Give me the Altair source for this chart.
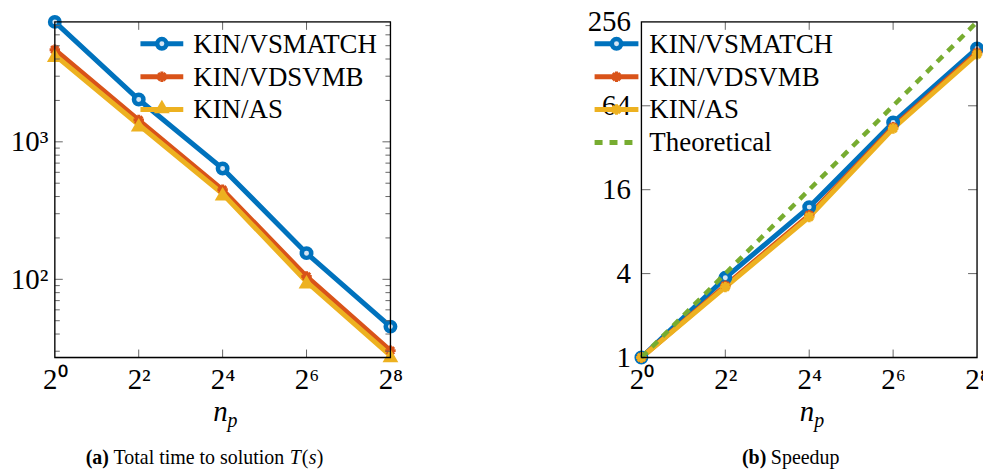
import altair as alt
import pandas as pd

# ---------------- data ----------------
np_vals = [1, 4, 16, 64, 256]
series_names = ["KIN/VSMATCH", "KIN/VDSVMB", "KIN/AS"]
t_vsmatch = [7450, 2030, 640, 155, 45.3]
t_vdsvmb = [4680, 1440, 448, 105, 30.3]
t_as = [4270, 1330, 419, 96, 27.9]

s_vsmatch = [1, 3.73, 12.0, 48.6, 165]
s_vdsvmb = [1, 3.28, 10.5, 45.0, 154]
s_as = [1, 3.2, 10.2, 44.0, 150]
s_theory = [1, 4, 16, 64, 256]

x_tick_vals = [1, 4, 16, 64, 256]
x_tick_inner = [4, 16, 64]
t_major = [100, 1000]
t_minor = [30, 40, 50, 60, 70, 80, 90, 200, 300, 400, 500, 600, 700, 800, 900,
           2000, 3000, 4000, 5000, 6000, 7000]
s_major = [1, 4, 16, 64, 256]
s_inner = [4, 16, 64]

BLUE, ORANGE, YELLOW, GREEN = "#0072BD", "#D95319", "#EDB120", "#77AC30"
FONT = "'Liberation Serif', 'Times New Roman', serif"
W, H = 337, 337
TICK = "#666666"
LAB = 29
ASTER = "M-1,0L1,0M0,-1L0,1M-0.7,-0.7L0.7,0.7M-0.7,0.7L0.7,-0.7"

one = pd.DataFrame({"d": [0]})

xlab = ("datum.value == 1 ? '2⁰' : datum.value == 4 ? '2²' : datum.value == 16 ? '2⁴'"
        " : datum.value == 64 ? '2⁶' : '2⁸'")

X_AXIS = alt.Axis(values=x_tick_vals, labelExpr=xlab, title=None, grid=False,
                  domain=False, ticks=False, labelFont=FONT, labelFontSize=LAB,
                  labelColor="black", labelPadding=8, labelFlush=False, labelOverlap=False)


def xenc():
    return alt.X("np:Q", scale=alt.Scale(type="log", base=2, domain=[1, 256], nice=False),
                 axis=X_AXIS)


def series_df(vals):
    return pd.DataFrame({"np": np_vals, "v": vals})


def line_layer(vals, color, yenc, dash=None, width=5):
    kw = dict(strokeWidth=width, color=color)
    if dash:
        kw["strokeDash"] = dash
    return alt.Chart(series_df(vals)).mark_line(**kw).encode(x=xenc(), y=yenc)


def circle_mark(data, color):
    return alt.Chart(data).mark_point(shape="circle", size=90, filled=False,
                                      fill="#d5e5f3", fillOpacity=1,
                                      stroke=color, strokeWidth=4.5, opacity=1)


def tri_mark(data, color):
    return alt.Chart(data).mark_point(shape="triangle-up", size=250, filled=True,
                                      color=color, opacity=1)


def aster_mark(data, color):
    return alt.Chart(data).mark_point(shape=ASTER, size=110, filled=False,
                                      stroke=color, strokeWidth=3, opacity=1)


def point_layer(vals, kind, color, yenc):
    d = series_df(vals)
    m = {"circle": circle_mark, "triangle": tri_mark, "aster": aster_mark}[kind](d, color)
    return m.encode(x=xenc(), y=yenc)


def legend_layers(entries, x0, x1, xt, y0, dy):
    layers = []
    for i, (label, color, kind, dash) in enumerate(entries):
        y = y0 + i * dy
        kw = dict(strokeWidth=5, color=color)
        if dash:
            kw["strokeDash"] = dash
        layers.append(alt.Chart(one).mark_rule(**kw).encode(
            x=alt.value(x0), x2=alt.value(x1), y=alt.value(y)))
        xm = (x0 + x1) / 2
        if kind == "circle":
            layers.append(circle_mark(one, color).encode(x=alt.value(xm), y=alt.value(y)))
        elif kind == "triangle":
            layers.append(tri_mark(one, color).encode(x=alt.value(xm), y=alt.value(y - 3)))
        elif kind == "aster":
            layers.append(aster_mark(one, color).encode(x=alt.value(xm), y=alt.value(y)))
        layers.append(alt.Chart(one).mark_text(text=label, font=FONT, fontSize=27,
                                               align="left", baseline="middle",
                                               color="black").encode(
            x=alt.value(xt), y=alt.value(y + 1)))
    return layers


def xtick_layers():
    d = pd.DataFrame({"np": x_tick_inner})
    top = alt.Chart(d).mark_rule(color=TICK, strokeWidth=1).encode(
        x=xenc(), y=alt.value(0), y2=alt.value(8))
    bot = alt.Chart(d).mark_rule(color=TICK, strokeWidth=1).encode(
        x=xenc(), y=alt.value(H - 8), y2=alt.value(H))
    return [top, bot]


def ytick_layers(vals, yenc, length):
    d = pd.DataFrame({"v": vals})
    left = alt.Chart(d).mark_rule(color=TICK, strokeWidth=1).encode(
        y=yenc, x=alt.value(0), x2=alt.value(length))
    right = alt.Chart(d).mark_rule(color=TICK, strokeWidth=1).encode(
        y=yenc, x=alt.value(W - length), x2=alt.value(W))
    return [left, right]


def np_title():
    return [
        alt.Chart(one).mark_text(text="n", font=FONT, fontSize=29, fontStyle="italic",
                                 align="right", baseline="alphabetic", color="black").encode(
            x=alt.value(W / 2 + 5), y=alt.value(H + 64)),
        alt.Chart(one).mark_text(text="p", font=FONT, fontSize=20, fontStyle="italic",
                                 align="left", baseline="alphabetic", color="black").encode(
            x=alt.value(W / 2 + 5), y=alt.value(H + 70)),
    ]


def caption(pieces):
    out = []
    for txt, x, weight, style in pieces:
        kw = dict(text=txt, font=FONT, fontSize=20, align="left", baseline="middle",
                  color="black", fontWeight=weight)
        if style:
            kw["fontStyle"] = style
        out.append(alt.Chart(one).mark_text(**kw).encode(x=alt.value(x), y=alt.value(H + 101)))
    return out


def frame():
    return alt.Chart(one).mark_rect(fill=None, stroke="black", strokeWidth=1.3).encode(
        x=alt.value(0), x2=alt.value(W), y=alt.value(0), y2=alt.value(H))


# ---------------- left panel ----------------
yT = alt.Y("v:Q", scale=alt.Scale(type="log", domain=[27, 7450], nice=False),
           axis=alt.Axis(values=t_major, labelExpr="datum.value == 100 ? '10²' : '10³'",
                         title=None, grid=False, domain=False, ticks=False, labelFont=FONT,
                         labelFontSize=LAB, labelColor="black", labelPadding=7,
                         labelOverlap=False, labelFlush=False))

left_layers = [
    line_layer(t_vsmatch, BLUE, yT),
    line_layer(t_vdsvmb, ORANGE, yT),
    line_layer(t_as, YELLOW, yT),
    point_layer(t_vsmatch, "circle", BLUE, yT),
    point_layer(t_vdsvmb, "aster", ORANGE, yT),
    point_layer(t_as, "triangle", YELLOW, yT),
]
left_layers += xtick_layers()
left_layers += ytick_layers(t_major, yT, 8)
left_layers += ytick_layers(t_minor, yT, 5)
left_layers += [frame()]
left_layers += legend_layers(
    [("KIN/VSMATCH", BLUE, "circle", None),
     ("KIN/VDSVMB", ORANGE, "aster", None),
     ("KIN/AS", YELLOW, "triangle", None)],
    x0=86, x1=129, xt=139, y0=22, dy=33)
left_layers += np_title()
left_layers += caption([("(a)", 31, "bold", None),
                        ("Total time to solution", 59, "normal", None),
                        ("T", 236, "normal", "italic"),
                        ("(", 248, "normal", None),
                        ("s", 255, "normal", "italic"),
                        (")", 263, "normal", None)])

left = alt.layer(*left_layers).properties(width=W, height=H)

# ---------------- right panel ----------------
yS = alt.Y("v:Q", scale=alt.Scale(type="log", base=2, domain=[1, 256], nice=False),
           axis=alt.Axis(values=s_major, title=None, grid=False, domain=False, ticks=False,
                         labelFont=FONT, labelFontSize=LAB, labelColor="black",
                         labelPadding=11, labelOverlap=False, labelFlush=False,
                         format="d"))

right_layers = [
    line_layer(s_vsmatch, BLUE, yS),
    line_layer(s_vdsvmb, ORANGE, yS),
    line_layer(s_as, YELLOW, yS),
    point_layer(s_vsmatch, "circle", BLUE, yS),
    point_layer(s_vdsvmb, "aster", ORANGE, yS),
    point_layer(s_as, "aster", YELLOW, yS),
    line_layer(s_theory, GREEN, yS, dash=[8, 7], width=4.5),
]
right_layers += xtick_layers()
right_layers += ytick_layers(s_inner, yS, 9)
right_layers += [frame()]
right_layers += legend_layers(
    [("KIN/VSMATCH", BLUE, "circle", None),
     ("KIN/VDSVMB", ORANGE, "aster", None),
     ("KIN/AS", YELLOW, "aster", None),
     ("Theoretical", GREEN, None, [8, 7])],
    x0=-47, x1=-3, xt=8, y0=22, dy=33)
right_layers += np_title()
right_layers += caption([("(b)", 101, "bold", None),
                         ("Speedup", 130, "normal", None)])

right = alt.layer(*right_layers).properties(width=W, height=H)

chart = alt.hconcat(left, right, spacing=252, bounds="flush").properties(
    padding={"left": 1, "top": -2, "right": -9, "bottom": 0}
).configure_view(stroke=None).configure(background="white")

chart.save("out.html", embed_options={"renderer": "svg", "actions": False})
